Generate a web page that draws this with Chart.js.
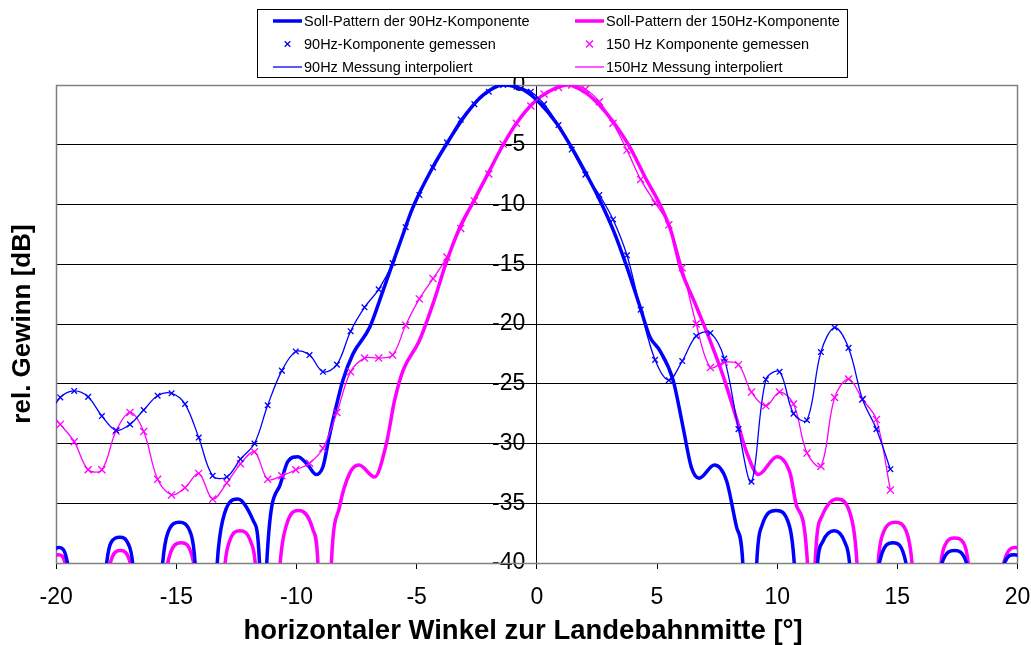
<!DOCTYPE html>
<html>
<head>
<meta charset="utf-8">
<script src="https://cdn.jsdelivr.net/npm/chart.js@4.4.0/dist/chart.umd.min.js"></script>
<style>
  html, body { margin: 0; padding: 0; background: #fff; }
</style>
</head>
<body>
<canvas id="c" width="1031" height="645"></canvas>
<script>
// Messwinkel (gleich fuer beide Komponenten)
const measAngles = [-20.41, -19.83, -19.25, -18.67, -18.1, -17.51, -16.93, -16.36, -15.78, -15.2,
  -14.64, -14.07, -13.49, -12.9, -12.33, -11.75, -11.2, -10.61, -10.03, -9.46,
  -8.9, -8.32, -7.75, -7.17, -6.58, -6.0, -5.46, -4.89, -4.32, -3.74,
  -3.17, -2.6, -2.0, -1.4, -0.85, -0.25, 0.3, 0.9, 1.45, 2.02,
  2.6, 3.17, 3.75, 4.32, 4.92, 5.49, 6.05, 6.63, 7.22, 7.8,
  8.39, 8.93, 9.53, 10.1, 10.68, 11.24, 11.82, 12.39, 12.97, 13.55,
  14.13, 14.71];
const meas90 = [-28.0, -26.15, -25.6, -26.1, -27.7, -28.9, -28.4, -27.2, -26.0, -25.8,
  -26.7, -29.5, -32.7, -32.8, -31.3, -30.0, -26.8, -23.9, -22.3, -22.6,
  -24.0, -23.4, -20.6, -18.6, -17.1, -14.9, -11.9, -9.2, -6.9, -4.8,
  -2.9, -1.6, -0.56, 0, -0.14, -0.56, -1.6, -3.35, -5.4, -7.5,
  -9.2, -11.25, -14.25, -18.8, -23.0, -24.7, -23.1, -21.0, -20.75, -22.9,
  -28.8, -33.2, -24.65, -24.0, -27.5, -28.05, -22.35, -20.3, -22.0, -26.3,
  -28.8, -32.15];
const meas150 = [-27.0, -28.4, -29.85, -32.2, -32.2, -28.96, -27.4, -29.0, -33.0, -34.3,
  -33.7, -32.5, -34.65, -33.3, -31.7, -30.7, -33.0, -32.7, -32.2, -31.65,
  -30.4, -27.4, -24.0, -22.85, -22.85, -22.6, -20.1, -17.9, -16.2, -14.4,
  -12.0, -9.7, -7.45, -4.95, -3.2, -1.76, -0.75, -0.2, 0, -0.36,
  -1.4, -3.2, -5.45, -7.9, -9.85, -11.7, -15.3, -20.0, -23.65, -23.2,
  -23.4, -25.7, -26.85, -25.7, -26.7, -30.8, -31.9, -26.15, -24.6, -26.3,
  -28.0, -33.9];

// Soll-Pattern 90Hz
const soll90Angles = [-20.5, -20.23, -19.88, -19.53, -18.7,
  -17.9, -17.72, -17.35, -16.99, -16.82, -16.2,
  -15.57, -15.36, -14.88, -14.39, -14.22, -13.75,
  -13.3, -13.07, -12.45, -11.79, -11.54, -11.4,
  -11.24, -10.71, -10.36, -9.94, -9.53, -9.18, -8.9, -8.64, -8.35, -8.07,
  -7.65, -6.96, -6.4, -5.71, -5.15, -4.32, -3.62, -2.93, -2.24, -1.4,
  -0.57, 0.12, 0.82, 1.51, 2.07, 2.61, 3.18, 3.74, 4.29, 4.71,
  5.11, 5.67, 6.08, 6.43, 6.75, 7.39, 7.89, 8.31, 8.57, 8.85,
  9.15, 9.36, 9.96, 10.51, 10.71, 11.2,
  11.68, 11.9, 12.38, 12.8, 13.01, 13.6,
  14.25, 14.82, 15.36, 16.1,
  16.86, 17.38, 17.88, 18.7,
  19.46, 19.85, 20.25, 20.5];
const soll90Gain = [-60, -40, -38.7, -40, -60,
  -40, -38.3, -37.85, -38.45, -40, -60,
  -40, -37.5, -36.6, -37.6, -40, -60,
  -40, -36.4, -34.65, -36.5, -40, -60,
  -40, -33.6, -31.5, -31.1, -31.8, -32.6, -31.95, -29.45, -26.9, -24.7,
  -22.5, -20.3, -17.2, -13.3, -10.2, -6.85, -4.5, -2.4, -0.85, 0,
  -0.4, -1.5, -3.2, -5.45, -7.5, -9.6, -12.15, -15.2, -18.55, -21.1,
  -22.2, -24.7, -28.6, -32.0, -32.9, -31.8, -33.1, -37.0, -40, -60,
  -40, -36.9, -35.6, -36.9, -40, -60,
  -40, -38.2, -37.3, -38.2, -40, -60,
  -40, -38.3, -40, -60,
  -40, -38.96, -40, -60,
  -40, -39.3, -40, -60];

// Soll-Pattern 150Hz
const soll150Angles = [-20.5, -20.18, -19.9, -19.63, -18.7,
  -17.75, -17.33, -16.92, -16.1,
  -15.36, -14.8, -14.28, -13.6,
  -12.97, -12.79, -12.35, -11.89, -11.72, -11.2,
  -10.68, -10.43, -9.9, -9.32, -9.11, -8.85,
  -8.55, -8.21, -7.79, -7.4, -6.75, -6.26, -5.92, -5.57, -4.89, -4.32,
  -3.76, -3.2, -2.65, -2.03, -1.4, -0.85, -0.15, 0.54, 1.3, 2.07,
  2.61, 3.18, 3.87, 4.5, 5.13, 5.61, 5.96, 6.65, 7.21, 7.76,
  8.32, 8.74, 9.22, 9.99, 10.54, 10.82, 11.26, 11.42,
  11.58, 11.86, 12.49, 13.11, 13.32, 13.75,
  14.2, 14.39, 14.92, 15.4, 15.61, 16.2,
  16.82, 17.0, 17.38, 17.75, 17.95, 18.7,
  19.43, 19.92, 20.3, 20.5];
const soll150Gain = [-60, -40, -39.3, -40, -60,
  -40, -38.96, -40, -60,
  -40, -38.3, -40, -60,
  -40, -38.2, -37.3, -38.3, -40, -60,
  -40, -36.9, -35.6, -37.2, -40, -60,
  -40, -35.3, -32.5, -31.8, -32.8, -30.0, -26.4, -23.9, -21.4, -18.3,
  -14.8, -11.9, -9.8, -7.4, -5.0, -3.2, -1.5, -0.5, 0, -0.7,
  -1.7, -3.1, -5.2, -7.7, -10.05, -12.4, -15.2, -18.6, -21.4, -24.4,
  -28.0, -30.8, -32.6, -31.1, -32.5, -35.3, -40, -60,
  -40, -36.1, -34.65, -36.4, -40, -60,
  -40, -37.6, -36.6, -37.5, -40, -60,
  -40, -38.45, -37.9, -38.3, -40, -60,
  -40, -38.7, -40, -60];

const xTicks = [-20, -15, -10, -5, 0, 5, 10, 15, 20];

const BLUE = '#0000FF';
const MAGENTA = '#FF00FF';
const FONT = '"Liberation Sans", Arial, sans-serif';

function pts(xs, ys) { return xs.map((x, i) => ({x: x, y: ys[i]})); }

// Legende: 2 Spalten, 3 Zeilen wie im Original
const legendBox = {
  id: 'legendBox',
  afterDraw(chart) {
    const ctx = chart.ctx;
    const ds = chart.data.datasets;
    ctx.save();
    ctx.fillStyle = '#fff';
    ctx.fillRect(257.5, 9.5, 590, 68);
    ctx.strokeStyle = '#000';
    ctx.lineWidth = 1;
    ctx.strokeRect(257.5, 9.5, 590, 68);
    const cols = [273, 575];
    const rows = [21, 44, 67];
    ds.forEach((d, i) => {
      const x0 = cols[i % 2], y0 = rows[Math.floor(i / 2)];
      ctx.strokeStyle = d.borderColor;
      if (d.showLine) {
        ctx.lineWidth = d.borderWidth;
        ctx.beginPath();
        ctx.moveTo(x0, y0);
        ctx.lineTo(x0 + 29, y0);
        ctx.stroke();
      } else {
        const r = d.pointRadius, cx = x0 + 14.5;
        ctx.lineWidth = d.borderWidth;
        ctx.beginPath();
        ctx.moveTo(cx - r * 0.7, y0 - r * 0.7); ctx.lineTo(cx + r * 0.7, y0 + r * 0.7);
        ctx.moveTo(cx + r * 0.7, y0 - r * 0.7); ctx.lineTo(cx - r * 0.7, y0 + r * 0.7);
        ctx.stroke();
      }
      ctx.fillStyle = '#000';
      ctx.font = '14.5px ' + FONT;
      ctx.textBaseline = 'middle';
      ctx.textAlign = 'left';
      ctx.fillText(d.label, x0 + 31, y0 + 1);
    });
    ctx.restore();
  }
};

// grauer Rahmen um die Zeichenflaeche
const plotFrame = {
  id: 'plotFrame',
  beforeDatasetsDraw(chart) {
    const {ctx, chartArea: a} = chart;
    ctx.save();
    ctx.strokeStyle = '#808080';
    ctx.lineWidth = 1.5;
    ctx.strokeRect(Math.round(a.left) + 0.5, Math.round(a.top) + 0.5,
      Math.round(a.right - a.left), Math.round(a.bottom - a.top));
    ctx.restore();
  }
};

new Chart(document.getElementById('c'), {
  type: 'scatter',
  data: {
    datasets: [
      {
        label: 'Soll-Pattern der 90Hz-Komponente',
        data: pts(soll90Angles, soll90Gain),
        showLine: true, borderColor: BLUE, borderWidth: 3.5, pointRadius: 0,
        cubicInterpolationMode: 'monotone', clip: 0, order: 3,
        xAxisID: 'x', yAxisID: 'y'
      },
      {
        label: 'Soll-Pattern der 150Hz-Komponente',
        data: pts(soll150Angles, soll150Gain),
        showLine: true, borderColor: MAGENTA, borderWidth: 3.5, pointRadius: 0,
        cubicInterpolationMode: 'monotone', clip: 0, order: 3,
        xAxisID: 'x', yAxisID: 'y'
      },
      {
        label: '90Hz-Komponente gemessen',
        data: pts(measAngles, meas90),
        showLine: false, borderColor: BLUE, backgroundColor: BLUE,
        pointStyle: 'crossRot', pointRadius: 4, borderWidth: 1.3, order: 0,
        xAxisID: 'x', yAxisID: 'y'
      },
      {
        label: '150 Hz Komponente gemessen',
        data: pts(measAngles, meas150),
        showLine: false, borderColor: MAGENTA, backgroundColor: MAGENTA,
        pointStyle: 'crossRot', pointRadius: 5, borderWidth: 1.3, order: 0,
        xAxisID: 'x', yAxisID: 'y'
      },
      {
        label: '90Hz Messung interpoliert',
        data: pts(measAngles, meas90),
        showLine: true, borderColor: BLUE, borderWidth: 1.3, pointRadius: 0,
        tension: 0.35, clip: 0, order: 1,
        xAxisID: 'x', yAxisID: 'y'
      },
      {
        label: '150Hz Messung interpoliert',
        data: pts(measAngles, meas150),
        showLine: true, borderColor: MAGENTA, borderWidth: 1.3, pointRadius: 0,
        tension: 0.35, clip: 0, order: 1,
        xAxisID: 'x', yAxisID: 'y'
      }
    ]
  },
  options: {
    responsive: false,
    animation: false,
    events: [],
    layout: { padding: { top: 85, right: 13.5, bottom: 0, left: 0 } },
    plugins: {
      legend: { display: false },
      tooltip: { enabled: false }
    },
    scales: {
      x: {
        type: 'linear', position: 'bottom', min: -20, max: 20,
        afterBuildTicks: s => { s.ticks = xTicks.map(v => ({value: v})); },
        afterFit: s => { s.height = 82; s.paddingLeft = 0; s.paddingRight = 0; },
        ticks: { color: '#000', font: { size: 23, family: FONT }, padding: 14.5, maxRotation: 0,
                 callback: v => String(v) },
        grid: { drawOnChartArea: false, drawTicks: true, tickLength: 6, color: '#000' },
        border: { display: false },
        title: { display: true, text: 'horizontaler Winkel zur Landebahnmitte [°]\u2002\u2002', color: '#000',
                 font: { size: 27.5, weight: 'bold', family: FONT, lineHeight: 1 },
                 padding: { top: 0, bottom: 0 } }
      },
      yL: {
        type: 'linear', position: 'left', min: -40, max: 0,
        ticks: { display: false },
        grid: { display: false, drawTicks: false },
        border: { display: false },
        title: { display: true, text: 'rel. Gewinn [dB]', color: '#000',
                 font: { size: 26, weight: 'bold', family: FONT }, padding: { top: 7, bottom: 18 } }
      },
      y: {
        type: 'linear', position: { x: 0 }, min: -40, max: 0,
        afterFit: s => { s.width = 0; s.paddingLeft = 0; s.paddingRight = 0; },
        ticks: { stepSize: 5, color: '#000', font: { size: 23, family: FONT }, padding: 0,
                 callback: v => String(v) + '\u2002' },
        grid: {
          color: c => (c.tick && (c.tick.value === 0 || c.tick.value === -40)) ? '#808080' : '#000',
          tickLength: 7, drawTicks: true
        },
        border: { color: '#000', width: 1 }
      }
    }
  },
  plugins: [plotFrame, legendBox]
});
</script>
</body>
</html>
